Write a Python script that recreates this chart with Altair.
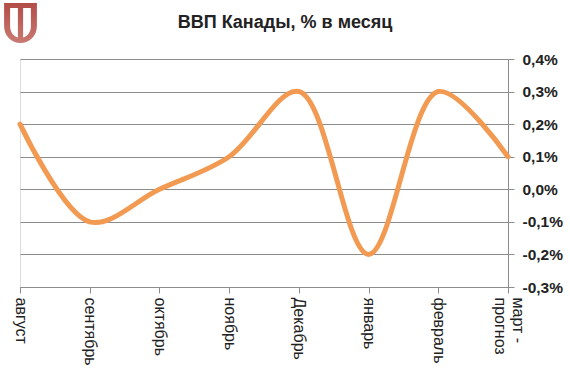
import altair as alt
import pandas as pd

months = ["август", "сентябрь", "октябрь", "ноябрь", "Декабрь", "январь", "февраль", "март - прогноз"]
gdp = [0.2, -0.1, 0.0, 0.1, 0.3, -0.2, 0.3, 0.1]
y_ticks = [-0.3, -0.2, -0.1, 0.0, 0.1, 0.2, 0.3, 0.4]
title_text = "ВВП Канады, % в месяц"

df = pd.DataFrame({"month": months, "gdp": gdp})

GRID = "#8c8c8c"
FONT = "Liberation Sans"

line = alt.Chart(df).mark_line(
    color="#f39a52", strokeWidth=5, interpolate="catmull-rom", strokeCap="round"
).encode(
    x=alt.X("month:N", sort=months, title=None,
            scale=alt.Scale(type="point", padding=0),
            axis=alt.Axis(labelAngle=90, labelFontSize=16, labelFont=FONT, labelColor="#222222",
                          labelPadding=4, tickSize=6, tickColor=GRID, domainColor=GRID,
                          labelAlign="left", labelBaseline="middle",
                          labelOffset={"condition": {"test": "datum.value === 'март - прогноз'", "value": 9}, "value": 0},
                          labelExpr="datum.label == 'март - прогноз' ? ['март -', 'прогноз'] : datum.label")),
    y=alt.Y("gdp:Q", title=None,
            scale=alt.Scale(domain=[-0.3, 0.4], nice=False, zero=False),
            axis=alt.Axis(orient="right", values=y_ticks, grid=True, gridColor=GRID, gridWidth=1,
                          tickColor=GRID, tickSize=6, domainColor=GRID,
                          labelFontSize=15.5, labelFontWeight="bold", labelFont=FONT, labelColor="#222222",
                          labelPadding=8, labelAlign="left",
                          labelExpr="replace(replace(format(datum.value, '.1f'), '.', ','), '\u2212', '-') + '%'")),
)

logo_path = "M-0.82,-1 L0.82,-1 L0.82,0.15 C0.82,0.65 0.45,1 0,1 C-0.45,1 -0.82,0.65 -0.82,0.15 Z " \
            "M-0.52,-0.75 L-0.52,0.15 C-0.52,0.45 -0.35,0.68 -0.13,0.72 L-0.13,-0.75 Z " \
            "M0.13,-0.75 L0.13,0.72 C0.35,0.68 0.52,0.45 0.52,0.15 L0.52,-0.75 Z"

logo = alt.Chart(pd.DataFrame({"k": [0]})).mark_point(
    shape=logo_path, filled=True, stroke=None, opacity=1, size=1600,
    fill=alt.Gradient(gradient="linear", x1=0, y1=0, x2=0, y2=1,
                      stops=[alt.GradientStop(color="#b24d47", offset=0),
                             alt.GradientStop(color="#c97a72", offset=1)])
).encode(x=alt.value(0.5), y=alt.value(-36))

title = alt.Chart(pd.DataFrame({"t": [title_text]})).mark_text(
    font=FONT, fontSize=18, fontWeight="bold", color="#222222", align="center", baseline="alphabetic"
).encode(text="t:N", x=alt.value(265), y=alt.value(-31))

chart = alt.layer(line, logo, title).properties(
    width=488, height=228,
    autosize=alt.AutoSizeParams(type="none"),
    padding={"left": 20, "top": 59, "right": 62, "bottom": 90},
).configure_view(fill="#d9d9d9", stroke=None).configure(background="white")

chart.save("out.html", embed_options={"renderer": "svg", "actions": False})
